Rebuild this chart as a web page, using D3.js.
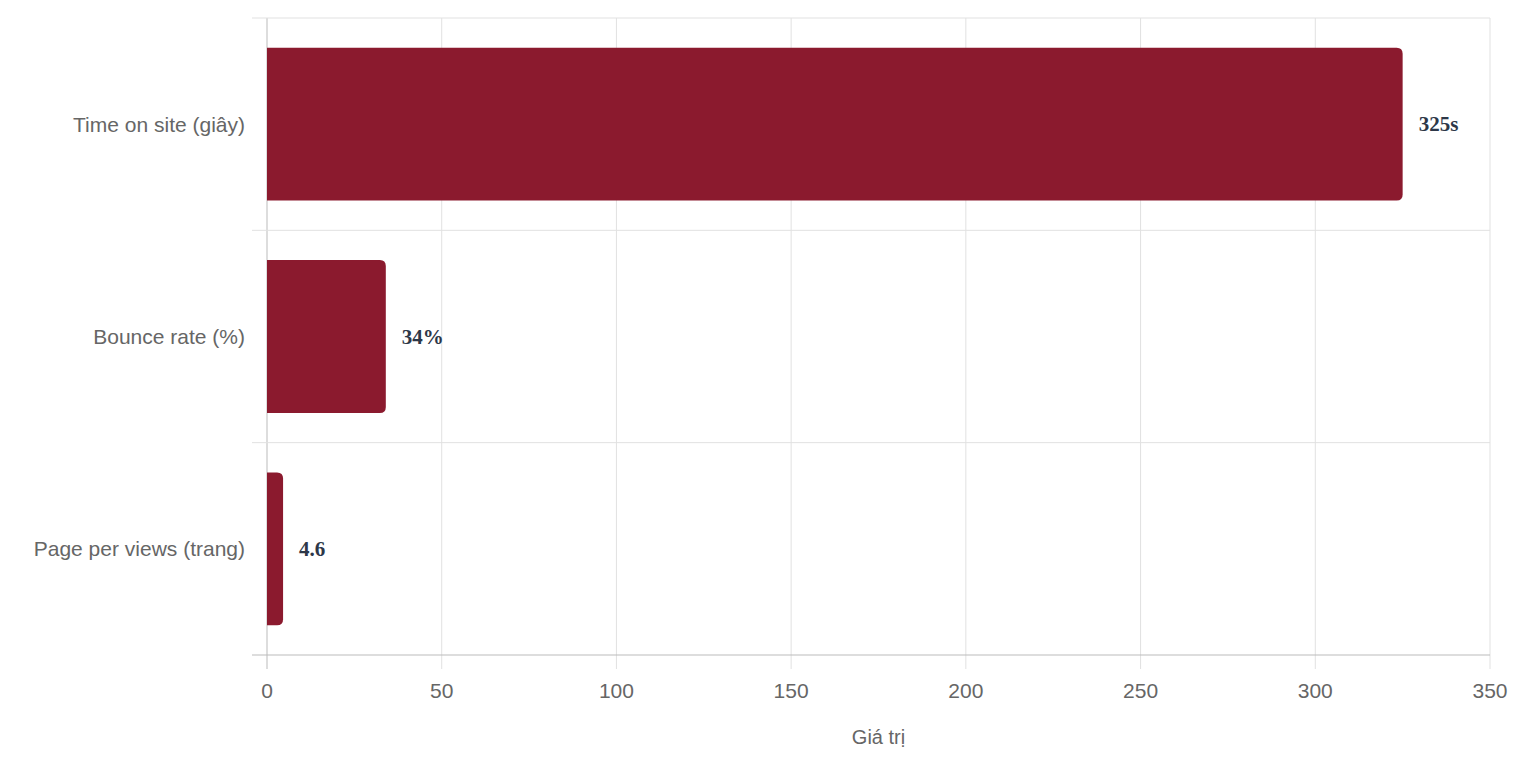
<!DOCTYPE html>
<html>
<head>
<script src="https://cdn.jsdelivr.net/npm/d3@7"></script>
<style>
  body { margin: 0; background: #fff; }
  text { font-family: "Liberation Sans", Arial, sans-serif; }
</style>
</head>
<body>
<svg id="chart" width="1516" height="758"></svg>
<script>
// chart data
var categories = ["Time on site (giây)", "Bounce rate (%)", "Page per views (trang)"];
var values = [325, 34, 4.6];
var valueLabels = ["325s", "34%", "4.6"];
var xTicks = [0, 50, 100, 150, 200, 250, 300, 350];

var svg = d3.select("#chart");
var plotLeft = 267, plotRight = 1490, plotTop = 18, plotBottom = 655;

var x = d3.scaleLinear().domain([0, 350]).range([plotLeft, plotRight]);
var y = d3.scaleBand().domain(categories).range([plotTop, plotBottom]).paddingInner(0).paddingOuter(0);

var grid = svg.append("g");
// vertical grid lines with tick marks below
xTicks.forEach(function (t) {
  grid.append("line")
    .attr("x1", x(t)).attr("x2", x(t))
    .attr("y1", plotTop).attr("y2", plotBottom + 14)
    .attr("stroke", t === 0 ? "#bbb" : "#e1e1e1").attr("stroke-width", 1);
});
// horizontal band separators
var hLines = [plotTop].concat(categories.map(function (c) { return y(c) + y.bandwidth(); }));
hLines.forEach(function (yy, i) {
  grid.append("line")
    .attr("x1", plotLeft - 15).attr("x2", plotRight)
    .attr("y1", yy).attr("y2", yy)
    .attr("stroke", i === hLines.length - 1 ? "#bbb" : "#e1e1e1").attr("stroke-width", 1);
});

// bars with rounded right end
var bh = y.bandwidth() * 0.72, r = 6;
categories.forEach(function (c, i) {
  var x0 = x(0), x1 = x(values[i]);
  var y0 = y(c) + (y.bandwidth() - bh) / 2, y1 = y0 + bh;
  var rr = Math.min(r, (x1 - x0));
  var p = "M" + x0 + "," + y0 +
    "H" + (x1 - rr) + "Q" + x1 + "," + y0 + " " + x1 + "," + (y0 + rr) +
    "V" + (y1 - rr) + "Q" + x1 + "," + y1 + " " + (x1 - rr) + "," + y1 +
    "H" + x0 + "Z";
  svg.append("path").attr("d", p).attr("fill", "#8b1a2e");

  svg.append("text")
    .attr("x", x1 + 16).attr("y", y0 + bh / 2)
    .attr("dominant-baseline", "central")
    .style("font-family", "'Liberation Serif', 'Times New Roman', serif")
    .style("font-weight", "bold").style("font-size", "21px")
    .attr("fill", "#2d3748")
    .text(valueLabels[i]);

  svg.append("text")
    .attr("x", plotLeft - 22).attr("y", y(c) + y.bandwidth() / 2)
    .attr("text-anchor", "end").attr("dominant-baseline", "central")
    .style("font-size", "21px").attr("fill", "#666")
    .text(c);
});

// x tick labels
xTicks.forEach(function (t) {
  svg.append("text")
    .attr("x", x(t)).attr("y", 698)
    .attr("text-anchor", "middle")
    .style("font-size", "21px").attr("fill", "#666")
    .text(t);
});

svg.append("text")
  .attr("x", (plotLeft + plotRight) / 2).attr("y", 744)
  .attr("text-anchor", "middle")
  .style("font-size", "20px").attr("fill", "#666")
  .text("Giá trị");
</script>
</body>
</html>
